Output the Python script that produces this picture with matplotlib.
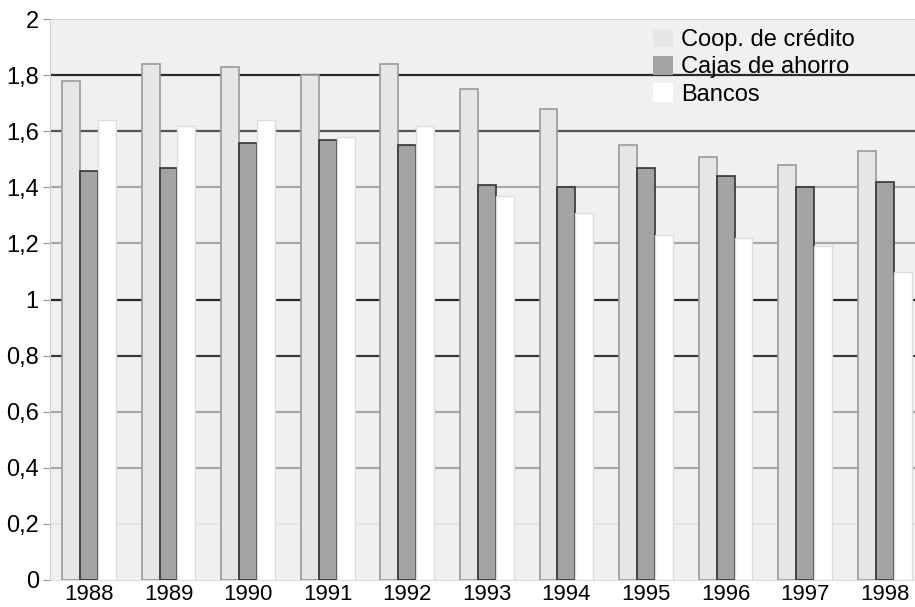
import matplotlib
matplotlib.use('Agg')
import matplotlib.pyplot as plt
from matplotlib.ticker import FuncFormatter, MultipleLocator
import numpy as np

plt.rcParams['font.family'] = ['Liberation Sans', 'DejaVu Sans']

years = ['1988', '1989', '1990', '1991', '1992', '1993', '1994', '1995', '1996', '1997', '1998']
coop = [1.78, 1.84, 1.83, 1.80, 1.84, 1.75, 1.68, 1.55, 1.51, 1.48, 1.53]
cajas = [1.46, 1.47, 1.56, 1.57, 1.55, 1.41, 1.40, 1.47, 1.44, 1.40, 1.42]
bancos = [1.64, 1.62, 1.64, 1.58, 1.62, 1.37, 1.31, 1.23, 1.22, 1.19, 1.10]
labels = ['Coop. de crédito', 'Cajas de ahorro', 'Bancos']

fig = plt.figure(figsize=(9.15, 6.07), dpi=100)
ax = fig.add_axes([0.0546, 0.0445, 0.9454, 0.924])
ax.set_facecolor('#f0f0f0')

x = np.arange(len(years))
w = 0.225
ax.bar(x - w, coop, w, color='#e6e6e6', edgecolor='#9a9a9a', linewidth=1.2, label=labels[0], zorder=3)
ax.bar(x, cajas, w, color='#a3a3a3', edgecolor='#333333', linewidth=1.2, label=labels[1], zorder=3)
ax.bar(x + w, bancos, w, color='white', edgecolor='#dddddd', linewidth=1.0, label=labels[2], zorder=3)

# lineas de la rejilla (intensidad distinta como en el original)
grid_cols = {0.2: '#e4e4e4', 0.4: '#a8a8a8', 0.6: '#a8a8a8', 0.8: '#3a3a3a', 1.0: '#2a2a2a',
             1.2: '#a8a8a8', 1.4: '#a8a8a8', 1.6: '#555555', 1.8: '#2a2a2a', 2.0: '#d0d0d0'}
for yv, c in grid_cols.items():
    ax.axhline(yv, color=c, linewidth=1.6, zorder=1)

ax.set_ylim(0, 2)
ax.set_xlim(-0.49, 10.38)
ax.set_xticks(x)
ax.set_xticklabels(years)
ax.yaxis.set_major_locator(MultipleLocator(0.2))
ax.yaxis.set_major_formatter(FuncFormatter(lambda v, p: '{:g}'.format(round(v, 1)).replace('.', ',')))
ax.tick_params(axis='y', labelsize=17, length=5, color='#999999', pad=3)
ax.tick_params(axis='x', labelsize=16, length=0, pad=3)

for s in ['top', 'right']:
    ax.spines[s].set_visible(False)
ax.spines['left'].set_color('#cccccc')
ax.spines['bottom'].set_color('#dddddd')

leg = ax.legend(loc='upper left', bbox_to_anchor=(0.686, 1.0), frameon=False, fontsize=17,
                handlelength=0.85, handleheight=0.85, handletextpad=0.35, labelspacing=0.2,
                borderaxespad=0)
for h in leg.legend_handles:
    h.set_edgecolor('none')

fig.savefig('out.png', dpi=100)
